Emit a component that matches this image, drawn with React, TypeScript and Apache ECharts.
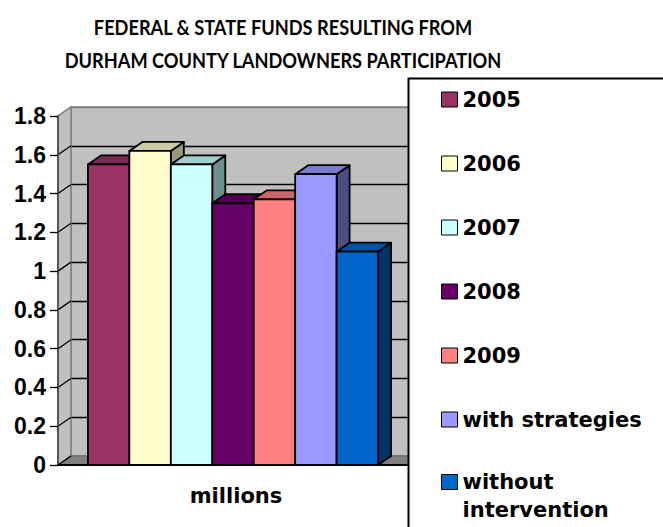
import React, { useEffect, useRef } from 'react';
import * as echarts from 'echarts';

const TITLE_LINES = ['FEDERAL & STATE FUNDS RESULTING FROM', 'DURHAM COUNTY LANDOWNERS PARTICIPATION'];
const CATEGORIES = ['millions'];
const SERIES_NAMES = ['2005', '2006', '2007', '2008', '2009', 'with strategies', 'without intervention'];
const SERIES_VALUES = [1.55, 1.62, 1.55, 1.35, 1.37, 1.5, 1.1];
const Y_TICKS = [0, 0.2, 0.4, 0.6, 0.8, 1, 1.2, 1.4, 1.6, 1.8];

const FRONT_COLORS = ['#993366', '#FFFFCC', '#CCFFFF', '#660066', '#FF8080', '#9999FF', '#0066CC'];
const TOP_COLORS = ['#7A2952', '#CCCCA3', '#A3CCCC', '#520052', '#CC6666', '#7A7ACC', '#0052A3'];
const SIDE_COLORS = ['#5C1F3D', '#99997A', '#6B8F8F', '#3D003D', '#994D4D', '#4D4D80', '#003366'];

const DX = 13;
const DY = -9;
const GAP = 0.185;
const BAR_SHIFT = -3;
const FONT = 'DejaVu Sans';
const AXIS_FONT = 'Liberation Sans';
const TITLE_FONT = 'Lato';

export default function App() {
  const ref = useRef<HTMLDivElement>(null);

  useEffect(() => {
    if (!ref.current) return;
    const chart = echarts.init(ref.current, null, { renderer: 'svg' });
    const N = SERIES_NAMES.length;

    const barSeries = SERIES_NAMES.map((name, i) => ({
      type: 'custom',
      name,
      xAxisIndex: 0,
      yAxisIndex: 0,
      z: 3,
      itemStyle: { color: FRONT_COLORS[i] },
      data: [[0, SERIES_VALUES[i]]],
      encode: { x: 0, y: 1 },
      renderItem: (params: any, api: any) => {
        const v = api.value(1);
        const base = api.coord([0, 0]);
        const top = api.coord([0, v]);
        const band = api.size([1, 0])[0];
        const bw = (band * (1 - GAP)) / N;
        const x0 = base[0] - (N * bw) / 2 + i * bw + BAR_SHIFT;
        const x1 = x0 + bw;
        const st = { stroke: '#000', lineWidth: 1.8, lineJoin: 'round' };
        return {
          type: 'group',
          children: [
            {
              type: 'polygon',
              shape: { points: [[x1, top[1]], [x1 + DX, top[1] + DY], [x1 + DX, base[1] + DY], [x1, base[1]]] },
              style: { fill: SIDE_COLORS[i], ...st },
            },
            {
              type: 'polygon',
              shape: { points: [[x0, top[1]], [x1, top[1]], [x1 + DX, top[1] + DY], [x0 + DX, top[1] + DY]] },
              style: { fill: TOP_COLORS[i], ...st },
            },
            {
              type: 'rect',
              shape: { x: x0, y: top[1], width: bw, height: base[1] - top[1] },
              style: { fill: FRONT_COLORS[i], ...st },
            },
          ],
        };
      },
    }));

    const wallSeries = {
      type: 'custom',
      name: 'walls',
      silent: true,
      xAxisIndex: 0,
      yAxisIndex: 0,
      z: 1,
      data: [[0, 0]],
      renderItem: (params: any) => {
        const cs = params.coordSys;
        const x = cs.x, y = cs.y, w = cs.width, h = cs.height;
        return {
          type: 'group',
          children: [
            {
              type: 'polygon',
              shape: { points: [[x, y], [x + DX, y + DY], [x + DX, y + h + DY], [x, y + h]] },
              style: { fill: '#C0C0C0', stroke: '#808080', lineWidth: 1.5 },
            },
            {
              type: 'polygon',
              shape: { points: [[x, y + h], [x + w, y + h], [x + w + DX, y + h + DY], [x + DX, y + h + DY]] },
              style: { fill: '#808080', stroke: '#606060', lineWidth: 1 },
            },
          ],
        };
      },
    };

    const wallLineSeries = {
      type: 'custom',
      name: 'wallLines',
      silent: true,
      xAxisIndex: 0,
      yAxisIndex: 0,
      z: 2,
      data: Y_TICKS.map((t) => [0, t]),
      renderItem: (params: any, api: any) => {
        const v = api.value(1);
        const p = api.coord([0, v]);
        const x = params.coordSys.x;
        const edge = v === Y_TICKS[Y_TICKS.length - 1];
        return {
          type: 'line',
          shape: { x1: x, y1: p[1], x2: x + DX, y2: p[1] + DY },
          style: { stroke: edge ? '#808080' : '#000', lineWidth: 1.3 },
        };
      },
    };

    const axisLabelStyle = { fontFamily: AXIS_FONT, fontWeight: 'bold', fontSize: 23, color: '#000' };
    const legendTextStyle = { fontFamily: FONT, fontWeight: 'bold', fontSize: 21, color: '#000' };

    const option: any = {
      animation: false,
      backgroundColor: '#fff',
      grid: [
        { left: 58, top: 116, right: 249, bottom: 62 },
        {
          left: 71, top: 107, right: 236, bottom: 71,
          show: true, backgroundColor: '#C0C0C0', borderColor: '#808080', borderWidth: 1.5,
        },
      ],
      xAxis: [
        {
          type: 'category',
          gridIndex: 0,
          data: CATEGORIES,
          z: 4,
          axisLine: { show: true, lineStyle: { color: '#000', width: 2 } },
          axisTick: { show: false },
          axisLabel: { fontFamily: FONT, fontWeight: 'bold', fontSize: 21, color: '#000', margin: 20 },
          splitLine: { show: false },
        },
        { type: 'value', gridIndex: 1, show: false, min: 0, max: 1 },
      ],
      yAxis: [
        {
          type: 'value',
          gridIndex: 0,
          min: 0,
          max: 1.8,
          interval: 0.2,
          z: 4,
          axisLine: { show: true, lineStyle: { color: '#404040', width: 1.5 } },
          axisTick: { show: true, length: 8, lineStyle: { color: '#000', width: 1.3 } },
          axisLabel: { ...axisLabelStyle, margin: 12 },
          splitLine: { show: false },
        },
        {
          type: 'value',
          gridIndex: 1,
          min: 0,
          max: 1.8,
          interval: 0.2,
          axisLine: { show: false },
          axisTick: { show: false },
          axisLabel: { show: false },
          splitLine: {
            show: true,
            lineStyle: {
              color: ['#808080', '#000', '#000', '#000', '#000', '#000', '#000', '#000', '#000', '#808080'],
              width: 1.3,
            },
          },
        },
      ],
      legend: [
        {
          orient: 'vertical',
          left: 441,
          top: 89,
          padding: 0,
          itemWidth: 16,
          itemHeight: 15,
          itemGap: 43,
          icon: 'rect',
          selectedMode: false,
          z: 10,
          data: SERIES_NAMES.slice(0, 6),
          itemStyle: { borderColor: '#000', borderWidth: 1 },
          textStyle: { ...legendTextStyle, lineHeight: 21 },
        },
        {
          orient: 'vertical',
          left: 441,
          top: 440,
          padding: 0,
          itemWidth: 16,
          itemHeight: 15,
          icon: 'rect',
          selectedMode: false,
          z: 10,
          data: SERIES_NAMES.slice(6),
          formatter: (n: string) => '\n' + n.replace(' ', '\n'),
          itemStyle: { borderColor: '#000', borderWidth: 1 },
          textStyle: { ...legendTextStyle, lineHeight: 28 },
        },
      ],
      graphic: [
        {
          type: 'text',
          z: 10,
          x: 283,
          y: 10.5,
          scaleX: 0.867,
          style: {
            text: TITLE_LINES.join('\n'),
            fontFamily: TITLE_FONT,
            fontWeight: 'bold',
            fontSize: 21,
            lineHeight: 33,
            fill: '#000',
            align: 'center',
            textAlign: 'center',
            verticalAlign: 'top',
            textVerticalAlign: 'top',
          },
        },
        {
          type: 'rect',
          z: 8,
          shape: { x: 408.5, y: 78.5, width: 300, height: 500 },
          style: { fill: '#fff', stroke: '#000', lineWidth: 2 },
        },
      ],
      series: [wallSeries, wallLineSeries, ...barSeries],
    };

    chart.setOption(option);
    return () => chart.dispose();
  }, []);

  return (
    <div
      ref={ref}
      style={{ position: 'fixed', left: 0, top: 0, width: 663, height: 527, background: '#fff' }}
    />
  );
}
